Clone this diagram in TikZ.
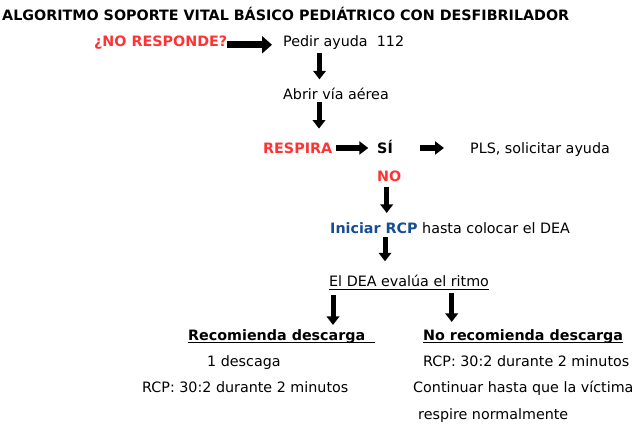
\documentclass[tikz,border=0pt]{standalone}
\usepackage{fontspec}
\setmainfont{DejaVu Sans}
\usepackage{xcolor}
\usepackage{tikz}
\usetikzlibrary{arrows.meta,positioning}

\definecolor{alarmred}{RGB}{255,51,51}
\definecolor{rcpblue}{RGB}{23,77,145}
\newcommand{\stepfont}{\fontsize{14.3pt}{17pt}\selectfont}

\begin{document}
\begin{tikzpicture}[x=1pt,y=-1pt,
  txt/.style={anchor=base west, inner sep=0pt, font=\stepfont},
  boldtxt/.style={txt, font=\stepfont\bfseries},
  redtxt/.style={boldtxt, text=alarmred},
  bigarrow/.style={line width=7pt, -{Triangle[length=10pt,width=17pt]}},
  midarrow/.style={line width=5.5pt, -{Triangle[length=9pt,width=13pt]}},
  downarrow/.style={line width=5pt, -{Triangle[length=8.5pt,width=12.5pt]}},
  uline/.style={line width=0.8pt}]

  \useasboundingbox (0,0) rectangle (636,426);

  \node[boldtxt] (title) at (2,20) {ALGORITMO SOPORTE VITAL BÁSICO PEDIÁTRICO CON DESFIBRILADOR};

  \node[redtxt] (noresp) at (94,46) {¿NO RESPONDE?};
  \node[txt] (pedir) at (283,46) {Pedir ayuda\ \ 112};
  \node[txt] (abrir) at (283,99) {Abrir vía aérea};

  \node[redtxt] (respira) at (263,153) {RESPIRA};
  \node[boldtxt] (si) at (377,153) {SÍ};
  \node[txt] (pls) at (470,153) {PLS, solicitar ayuda};
  \node[redtxt] (no) at (377,181) {NO};

  \node[txt] (iniciar) at (330,233) {{\color{rcpblue}\bfseries Iniciar RCP} hasta colocar el DEA};
  \node[txt] (eldea) at (329,286.5) {El DEA evalúa el ritmo};

  \node[boldtxt] (recom) at (188,340) {Recomienda descarga};
  \node[boldtxt] (norecom) at (423,340) {No recomienda descarga};

  \node[txt] (descaga) at (207,366) {1 descaga};
  \node[txt] (rcpleft) at (142,392.7) {RCP: 30:2 durante 2 minutos};
  \node[txt] (rcpright) at (423,366) {RCP: 30:2 durante 2 minutos};
  \node[txt] (seguir) at (413,392.7) {Continuar hasta que la víctima};
  \node[txt] (respire) at (418,419) {respire normalmente};

  % underlines
  \draw[uline] ([yshift=-2.8pt]eldea.base west) -- ([yshift=-2.8pt]eldea.base east);
  \draw[uline] ([yshift=-2.3pt]recom.base west) -- ([xshift=10pt,yshift=-2.3pt]recom.base east);
  \draw[uline] ([yshift=-2.3pt]norecom.base west) -- ([yshift=-2.3pt]norecom.base east);

  % arrows
  \draw[bigarrow, shorten >=11pt] ([yshift=-1.5pt]noresp.mid east) -- ([yshift=-1.5pt]pedir.mid west);
  \draw[downarrow, shorten <=3.6pt, shorten >=8pt]
    ([xshift=36.5pt]pedir.south west) -- ([xshift=36.5pt]abrir.north west);
  \draw[downarrow, shorten <=2.7pt, shorten >=13.6pt]
    ([xshift=36pt]abrir.south west) -- ([xshift=56pt]respira.north west);
  \draw[midarrow, shorten <=3.7pt, shorten >=8.7pt]
    ([yshift=2.3pt]respira.mid east) -- ([yshift=2.3pt]si.mid west);
  \draw[midarrow, shorten <=27pt, shorten >=26pt]
    ([yshift=2.3pt]si.mid east) -- ([yshift=2.3pt]pls.mid west);
  \draw[downarrow, shorten <=5.7pt, shorten >=9pt]
    ([xshift=9.7pt]no.south west) -- ([xshift=56.7pt]iniciar.north west);
  \draw[downarrow, shorten <=4pt, shorten >=13.6pt]
    ([xshift=55pt]iniciar.south west) -- ([xshift=56pt]eldea.north west);
  \draw[downarrow, shorten <=8.5pt, shorten >=4pt]
    ([xshift=4pt]eldea.south west) -- ([xshift=145pt]recom.north west);
  \draw[downarrow, shorten <=6.5pt, shorten >=7pt]
    ([xshift=122.7pt]eldea.south west) -- ([xshift=28.7pt]norecom.north west);

\end{tikzpicture}
\end{document}
